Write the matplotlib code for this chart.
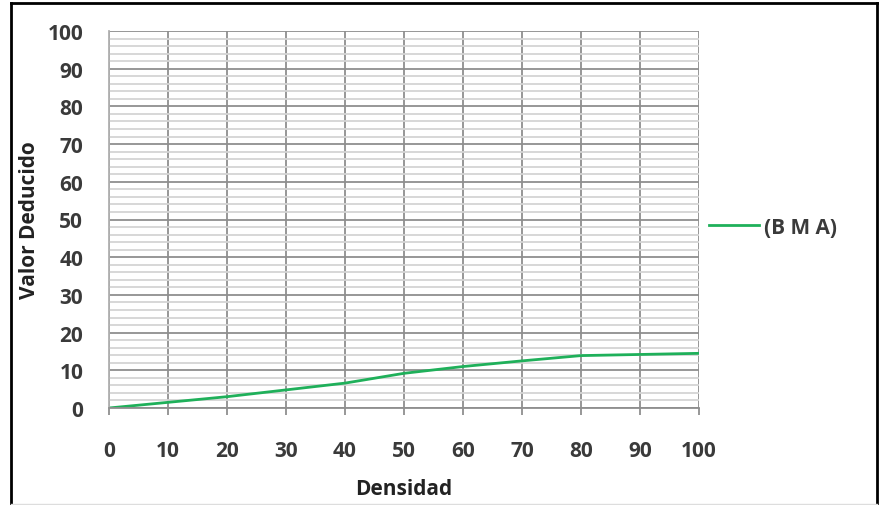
import matplotlib
matplotlib.use("Agg")
import matplotlib.pyplot as plt
from matplotlib.lines import Line2D
import numpy as np

densidad = [0, 10, 20, 30, 40, 50, 60, 70, 80, 90, 100]
valor_deducido = [0, 1.5, 3.0, 4.8, 6.6, 9.2, 11.0, 12.5, 13.9, 14.2, 14.5]
series_label = "(B M A)"
x_ticks = list(range(0, 101, 10))
y_ticks = list(range(0, 101, 10))

plt.rcParams['font.family'] = ['Open Sans', 'DejaVu Sans']

W, H = 883, 506
FS = 15
fig = plt.figure(figsize=(W / 100, H / 100), dpi=100)
ax = fig.add_axes([109 / W, 1 - 409 / H, (699 - 109) / W, (409 - 32) / H])

ax.set_xlim(0, 100)
ax.set_ylim(0, 100)
ax.set_xticks(x_ticks)
ax.set_yticks(y_ticks)
ax.set_yticks(np.arange(0, 101, 2), minor=True)

ax.grid(True, which='minor', axis='y', color='#d4d4d4', linewidth=1.3)
ax.grid(True, which='major', axis='y', color='#8f8f8f', linewidth=1.3)
ax.grid(True, which='major', axis='x', color='#8f8f8f', linewidth=1.3)
ax.set_axisbelow(True)

for s in ['top', 'right']:
    ax.spines[s].set_visible(False)
ax.spines['left'].set_color('#b0b0b0')
ax.spines['bottom'].set_color('#8f8f8f')
ax.spines['left'].set_linewidth(1.3)
ax.spines['bottom'].set_linewidth(1.3)

ax.tick_params(axis='x', which='major', length=5, width=1.3, color='#8f8f8f',
               pad=18, labelsize=FS, labelcolor='#3a3a3a')
ax.tick_params(axis='y', which='major', length=0, pad=18.5, labelsize=FS, labelcolor='#3a3a3a')
ax.tick_params(axis='y', which='minor', length=0)
for lab in ax.get_xticklabels() + ax.get_yticklabels():
    lab.set_fontweight('bold')

line, = ax.plot(densidad, valor_deducido, color='#1fb05a', linewidth=2.0, label=series_label)

ax.set_xlabel('Densidad', fontsize=FS, fontweight='bold', color='#222222')
ax.xaxis.set_label_coords(0.5, (409 - 490) / 377, transform=ax.transAxes)
ax.xaxis.label.set_va('center')
ax.set_ylabel('Valor Deducido', fontsize=FS, fontweight='bold', color='#222222')
ax.yaxis.set_label_coords((30 - 109) / 590, 0.5, transform=ax.transAxes)
ax.yaxis.label.set_va('center')

leg = fig.legend(handles=[line], labels=[series_label], loc='center left',
                 bbox_to_anchor=(709 / W, 1 - 228 / H), frameon=False,
                 fontsize=FS, handlelength=2.4, handletextpad=0.25, borderpad=0,
                 borderaxespad=0)
for t in leg.get_texts():
    t.set_fontweight('bold')
    t.set_color('#3a3a3a')

# figure frame
fig.add_artist(Line2D([11 / W, 11 / W], [0, 1 - 4 / H], transform=fig.transFigure, color='black', linewidth=2))
fig.add_artist(Line2D([11 / W, 877 / W], [1 - 4 / H, 1 - 4 / H], transform=fig.transFigure, color='black', linewidth=2))
fig.add_artist(Line2D([877 / W, 877 / W], [0, 1 - 4 / H], transform=fig.transFigure, color='black', linewidth=2))
fig.add_artist(Line2D([11 / W, 877 / W], [1.5 / H, 1.5 / H], transform=fig.transFigure, color='#dddddd', linewidth=1))

fig.savefig('out.png', dpi=100)
